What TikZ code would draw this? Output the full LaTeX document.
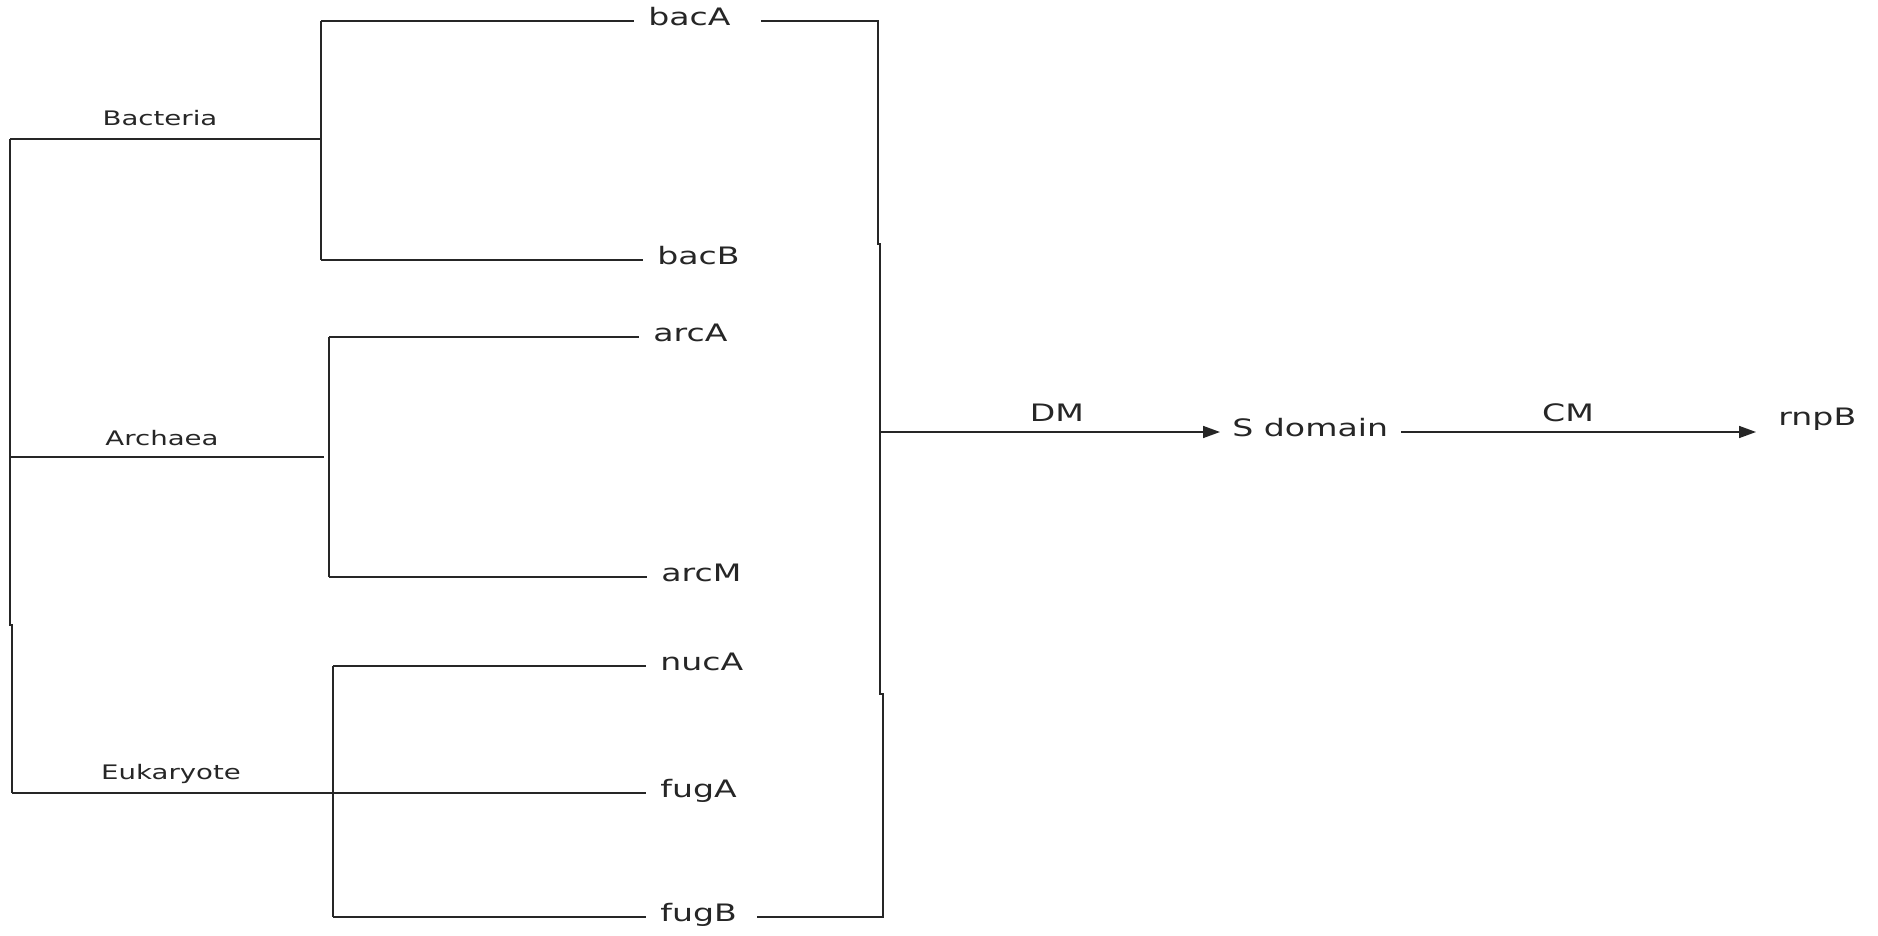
\documentclass[tikz,border=0pt]{standalone}
\usepackage{fontspec}
\usetikzlibrary{arrows.meta}
\newfontfamily\treefont[FakeStretch=1.38]{DejaVu Sans}
\begin{document}
\begin{tikzpicture}[x=0.5pt,y=-0.5pt,
  branch/.style={line width=1pt, draw=black!85},
  leaf/.style={font=\treefont\fontsize{12}{14}\selectfont, anchor=mid west,
               inner xsep=7pt, inner ysep=0pt, text=black!85},
  clade/.style={font=\treefont\fontsize{10}{12}\selectfont, anchor=base,
                inner sep=0pt, text=black!85},
  stage/.style={font=\treefont\fontsize{12}{14}\selectfont, anchor=mid west,
                inner sep=0pt, text=black!85},
  flow/.style={line width=0.8pt, draw=black!85,
               -{Triangle[length=8.5pt,width=6pt]}},
  flowlabel/.style={font=\treefont\fontsize{12}{14}\selectfont, anchor=base,
                    yshift=5.5pt, inner sep=0pt, text=black!85}]
\useasboundingbox (0,0) rectangle (1878,936);

% leaves
\node[leaf] (bacA) at (634,21)  {bacA};
\node[leaf] (bacB) at (643,260) {bacB};
\node[leaf] (arcA) at (639,337) {arcA};
\node[leaf] (arcM) at (647,577) {arcM};
\node[leaf] (nucA) at (646,666) {nucA};
\node[leaf] (fugA) at (646,793) {fugA};
\node[leaf] (fugB) at (646,917) {fugB};

% clade labels
\node[clade] (lbac) at (160,126) {Bacteria};
\node[clade] (larc) at (162,445) {Archaea};
\node[clade] (leuk) at (171,779) {Eukaryote};

% inner nodes of the tree
\coordinate (rootT) at (10,139);
\coordinate (rootJ) at (10,625);
\coordinate (rootJ2) at (12,625);
\coordinate (rootB) at (12,793);
\coordinate (rootA) at (10,457);
\coordinate (bacT) at (321,21);
\coordinate (bacM) at (321,139);
\coordinate (bacL) at (321,260);
\coordinate (arcE) at (324,457);
\coordinate (arcT) at (329,337);
\coordinate (arcL) at (329,577);
\coordinate (eukT) at (333,666);
\coordinate (eukL) at (333,917);

% root and clades
\draw[branch] (rootT) -- (rootJ) -- (rootJ2) -- (rootB);
\draw[branch] (rootT) -- (bacM);
\draw[branch] (rootA) -- (arcE);
\draw[branch] (rootB) -- (fugA.mid west);

\draw[branch] (bacT) -- (bacL);
\draw[branch] (bacT) -- (bacA.mid west);
\draw[branch] (bacL) -- (bacB.mid west);

\draw[branch] (arcT) -- (arcL);
\draw[branch] (arcT) -- (arcA.mid west);
\draw[branch] (arcL) -- (arcM.mid west);

\draw[branch] (eukT) -- (eukL);
\draw[branch] (eukT) -- (nucA.mid west);
\draw[branch] (eukL) -- (fugB.mid west);

% bracket gathering all leaves
\coordinate (brT) at (878,21);
\coordinate (brJ1) at (878,244);
\coordinate (brJ1b) at (880,244);
\coordinate (brMid) at (880,432);
\coordinate (brJ2) at (880,694);
\coordinate (brJ2b) at (883,694);
\coordinate (brB) at (883,917);
\draw[branch] ([xshift=8pt]bacA.mid east) -- (brT) -- (brJ1) -- (brJ1b)
  -- (brJ2) -- (brJ2b) -- (brB) -- ([xshift=3pt]fugB.mid east);

% S domain and rnpB
\node[stage] (sd) at (1232,432) {S domain};
\node[stage] (rnpB) at (1778,421) {rnpB};
\coordinate (cmEnd) at (1756,432);

\draw[flow] (brMid) -- node[flowlabel, pos=0.52] (dm) {DM}
  ([xshift=-6pt]sd.mid west);
\draw[flow] ([xshift=6.5pt]sd.mid east) -- node[flowlabel, pos=0.47] (cm) {CM}
  (cmEnd);
\end{tikzpicture}
\end{document}
